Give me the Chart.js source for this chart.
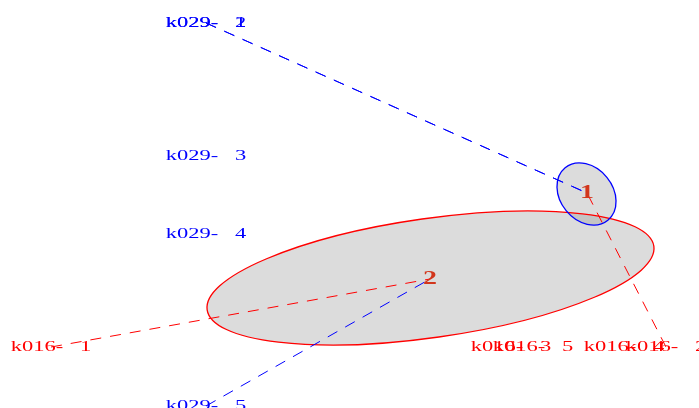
<!DOCTYPE html>
<html>
<head>
<meta charset="utf-8">
<script src="https://cdn.jsdelivr.net/npm/chart.js@4/dist/chart.umd.min.js"></script>
<style>
html,body{margin:0;padding:0;background:#fff;}
#wrap{width:699px;height:408px;}
</style>
</head>
<body>
<div id="wrap"><canvas id="c" width="699" height="408"></canvas></div>
<script>
// ---- data (ordination units) ----
const blueLabels = ['k029-   1', 'k029-   2', 'k029-   3', 'k029-   4', 'k029-   5'];
const blueX = [-1.44, -1.44, -1.44, -1.44, -1.44];
const blueY = [1.81, 1.81, 0.48, -0.30, -2.02];
const blueLink = [1, 1, 0, 0, 2];   // class centre each point is joined to (0 = none)

const redLabels = ['k016-   1', 'k016-   3', 'k016-   5', 'k016-   4', 'k016-   2'];
const redX = [-2.99, 1.61, 1.83, 2.74, 3.16];
const redY = [-1.43, -1.43, -1.43, -1.43, -1.43];
const redLink = [2, 0, 0, 0, 1];

const centerLabels = ['1', '2'];
const centerX = [2.37, 0.80];
const centerY = [0.11, -0.75];

// ellipses of the two classes
const ellCx = [2.365, 0.805];
const ellCy = [0.10, -0.74];
const ellA = [0.338, 2.256];
const ellB = [0.263, 0.596];
const ellAngle = [-50.8, 8.1];   // degrees, counter-clockwise
const ellColor = ['#0000ff', '#ff0000'];

// ---- build line datasets ----
function links(xs, ys, link, color) {
  const out = [];
  xs.forEach((x, i) => {
    if (!link[i]) return;
    const c = link[i] - 1;
    out.push({
      type: 'line',
      data: [{x: x, y: ys[i]}, {x: centerX[c], y: centerY[c]}],
      borderColor: color,
      borderWidth: 1,
      borderDash: [11, 9],
      pointRadius: 0,
      showLine: true,
      fill: false
    });
  });
  return out;
}
const datasets = [].concat(
  links(blueX, blueY, blueLink, '#0000ff'),
  links(redX, redY, redLink, '#ff0000')
);

const ellipsePlugin = {
  id: 'ellipses',
  beforeDatasetsDraw(chart) {
    const ctx = chart.ctx, xs = chart.scales.x, ys = chart.scales.y;
    const ppu = xs.getPixelForValue(1) - xs.getPixelForValue(0);
    ctx.save();
    for (let i = 0; i < ellCx.length; i++) {
      ctx.beginPath();
      ctx.ellipse(xs.getPixelForValue(ellCx[i]), ys.getPixelForValue(ellCy[i]),
        ellA[i] * ppu, ellB[i] * ppu, -ellAngle[i] * Math.PI / 180, 0, Math.PI * 2);
      ctx.fillStyle = 'rgba(140,140,140,0.30)';
      ctx.fill();
    }
    for (let i = ellCx.length - 1; i >= 0; i--) {
      ctx.beginPath();
      ctx.ellipse(xs.getPixelForValue(ellCx[i]), ys.getPixelForValue(ellCy[i]),
        ellA[i] * ppu, ellB[i] * ppu, -ellAngle[i] * Math.PI / 180, 0, Math.PI * 2);
      ctx.strokeStyle = ellColor[i];
      ctx.lineWidth = 1.3;
      ctx.stroke();
    }
    ctx.restore();
  }
};

function drawText(ctx, txt, px, py, font, color, sx) {
  ctx.save();
  ctx.translate(px, py);
  ctx.scale(sx, 1);
  ctx.font = font;
  ctx.fillStyle = color;
  ctx.textAlign = 'center';
  ctx.textBaseline = 'middle';
  ctx.fillText(txt, 0, 0);
  ctx.restore();
}

const labelPlugin = {
  id: 'labels',
  afterDatasetsDraw(chart) {
    const ctx = chart.ctx, xs = chart.scales.x, ys = chart.scales.y;
    const f = '15px "Liberation Serif"';
    blueLabels.forEach((t, i) => drawText(ctx, t, xs.getPixelForValue(blueX[i]), ys.getPixelForValue(blueY[i]), f, '#0000ff', 1.5));
    redLabels.forEach((t, i) => drawText(ctx, t, xs.getPixelForValue(redX[i]), ys.getPixelForValue(redY[i]), f, '#ff0000', 1.5));
    centerLabels.forEach((t, i) => drawText(ctx, t, xs.getPixelForValue(centerX[i]), ys.getPixelForValue(centerY[i]), 'bold 18px "Liberation Serif"', '#d2361c', 1.55));
  }
};

new Chart(document.getElementById('c'), {
  type: 'scatter',
  data: { datasets: datasets },
  options: {
    responsive: false,
    animation: false,
    layout: { padding: 0 },
    scales: {
      x: { type: 'linear', min: -3.5, max: 3.49, display: false },
      y: { type: 'linear', min: -2.04, max: 2.04, display: false }
    },
    plugins: { legend: { display: false }, tooltip: { enabled: false } }
  },
  plugins: [ellipsePlugin, labelPlugin]
});
</script>
</body>
</html>
